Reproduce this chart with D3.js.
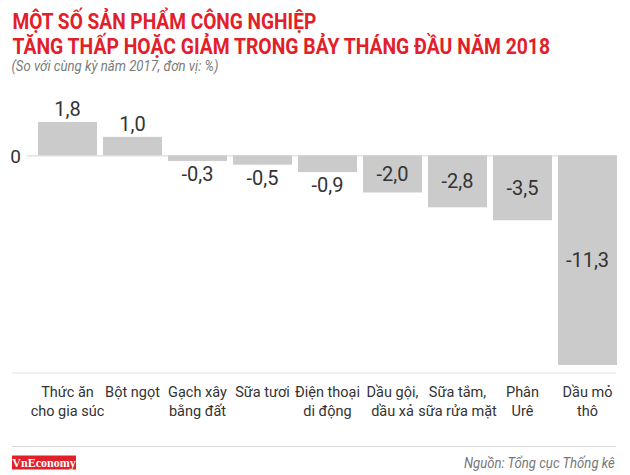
<!DOCTYPE html>
<html><head><meta charset="utf-8">
<script src="https://cdn.jsdelivr.net/npm/d3@7"></script>
<style>
body{margin:0;background:#fff;}
svg{display:block;font-family:Roboto,"Noto Sans",sans-serif;}
</style></head>
<body>
<svg id="c" width="630" height="475"></svg>
<script>
const categories = [
  ["Thức ăn","cho gia súc"],
  ["Bột ngọt"],
  ["Gạch xây","bằng đất"],
  ["Sữa tươi"],
  ["Điện thoại","di động"],
  ["Dầu gội,","dầu xả"],
  ["Sữa tắm,","sữa rửa mặt"],
  ["Phân","Urê"],
  ["Dầu mỏ","thô"]
];
const values = [1.8, 1.0, -0.3, -0.5, -0.9, -2.0, -2.8, -3.5, -11.3];
const yTicks = [0];
const valueLabels = ["1,8","1,0","-0,3","-0,5","-0,9","-2,0","-2,8","-3,5","-11,3"];

const svg = d3.select("#c");
const red = "#e2202a";

// fit a text to a given width by horizontal scaling
function fitText(sel, targetW){
  const w = sel.node().getComputedTextLength();
  const x0 = +sel.attr("x"), y0 = +sel.attr("y");
  sel.attr("x",0).attr("y",0)
     .attr("transform",`translate(${x0},${y0}) scale(${targetW/w},1)`);
}

// Title
fitText(svg.append("text").attr("x",12.5).attr("y",29.3).attr("fill",red)
  .attr("font-size",22.5).attr("font-weight",700)
  .text("MỘT SỐ SẢN PHẨM CÔNG NGHIỆP"), 304);
fitText(svg.append("text").attr("x",12.5).attr("y",53.5).attr("fill",red)
  .attr("font-size",22.5).attr("font-weight",700)
  .text("TĂNG THẤP HOẶC GIẢM TRONG BẢY THÁNG ĐẦU NĂM 2018"), 538);
fitText(svg.append("text").attr("x",11.5).attr("y",71.3).attr("fill","#7a7a7a")
  .attr("font-size",15).attr("font-style","italic")
  .text("(So với cùng kỳ năm 2017, đơn vị: %)"), 207);

const x = d3.scaleBand().domain(d3.range(categories.length))
  .range([35,620]).paddingInner(0.092).paddingOuter(0.046);
const y = d3.scaleLinear().domain([-11.3, 1.8]).range([365, 122]);

// zero axis
const axis = d3.axisLeft(y).tickValues(yTicks).tickFormat(d=>String(d))
  .tickSize(-(617-27)).tickPadding(6);
const ag = svg.append("g").attr("transform","translate(27,0)").call(axis);
ag.select(".domain").remove();
ag.selectAll(".tick line").attr("stroke","#dcdcdc").attr("stroke-width",1.2);
ag.selectAll(".tick text").attr("fill","#333").attr("font-size",19)
  .attr("font-family","Roboto,sans-serif").attr("dy","0.35em");

// bars
svg.append("g").selectAll("rect").data(values).join("rect")
  .attr("x",(d,i)=>x(i)).attr("width",x.bandwidth())
  .attr("y",d=>y(Math.max(0,d))).attr("height",d=>Math.abs(y(d)-y(0)))
  .attr("fill","#cbcbcb");

// value labels
svg.append("g").selectAll("text").data(values).join("text")
  .attr("x",(d,i)=>x(i)+x.bandwidth()/2)
  .attr("y",d=>{
    if(d>=0) return y(d)-6;
    if(d<=-2) return (y(0)+y(d))/2 + 7;
    return y(d)+20;
  })
  .attr("text-anchor","middle").attr("fill","#333").attr("font-size",20)
  .text((d,i)=>valueLabels[i]);

// separator lines
svg.append("line").attr("x1",12).attr("x2",616).attr("y1",373).attr("y2",373)
  .attr("stroke","#e2e2e2").attr("stroke-width",1.2);
svg.append("line").attr("x1",12).attr("x2",616).attr("y1",446.5).attr("y2",446.5)
  .attr("stroke","#d8d8d8").attr("stroke-width",1.2);

// category labels
const cg = svg.append("g").selectAll("text").data(categories).join("text")
  .attr("x",(d,i)=>x(i)+x.bandwidth()/2).attr("y",397)
  .attr("text-anchor","middle").attr("fill","#333").attr("font-size",14.5);
cg.selectAll("tspan").data(d=>d).join("tspan")
  .attr("x",function(){return d3.select(this.parentNode).attr("x");})
  .attr("dy",(d,i)=>i===0?0:18.5).text(d=>d);

// logo
svg.append("rect").attr("x",12).attr("y",455.5).attr("width",64).attr("height",14).attr("fill",red);
svg.append("text").attr("x",44).attr("y",466.5).attr("text-anchor","middle").attr("fill","#fff")
  .attr("font-family","'Liberation Serif',serif").attr("font-weight",700).attr("font-size",12)
  .text("VnEconomy");

// source
fitText(svg.append("text").attr("x",464).attr("y",468).attr("fill","#777")
  .attr("font-size",15).attr("font-style","italic")
  .text("Nguồn: Tổng cục Thống kê"), 151);
</script>
</body></html>
